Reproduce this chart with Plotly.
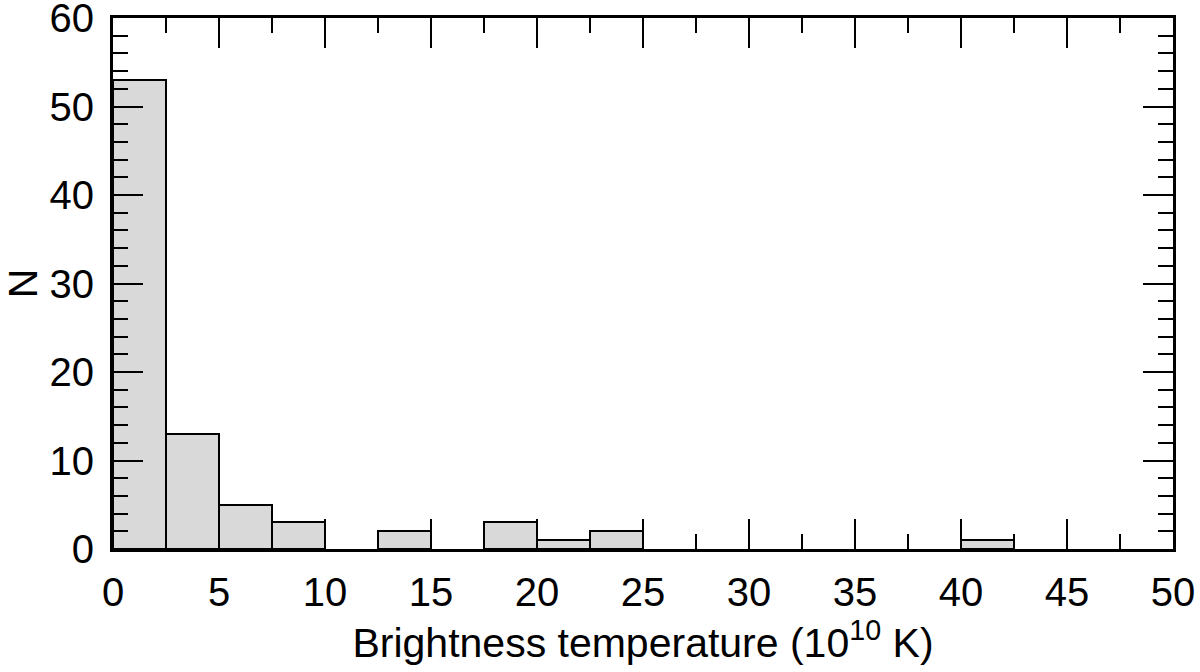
import plotly.graph_objects as go

bin_left = [0, 2.5, 5, 7.5, 10, 12.5, 15, 17.5, 20, 22.5, 25, 27.5, 30, 32.5, 35, 37.5, 40, 42.5, 45, 47.5]
counts = [53, 13, 5, 3, 0, 2, 0, 3, 1, 2, 0, 0, 0, 0, 0, 0, 1, 0, 0, 0]
bin_width = 2.5

xs = [b + bin_width / 2 for b in bin_left]
xv = [x for x, c in zip(xs, counts) if c > 0]
yv = [c for c in counts if c > 0]

fig = go.Figure(go.Bar(
    x=xv, y=yv, width=bin_width,
    marker=dict(color="#d9d9d9", line=dict(color="black", width=2)),
))

font = dict(family="Liberation Sans, Arial, sans-serif", size=40, color="black")
title_font = dict(family="Liberation Sans, Arial, sans-serif", size=41, color="black")
axis_common = dict(
    showgrid=False, zeroline=False, showline=True, linecolor="black", linewidth=3,
    mirror="allticks", ticks="inside", ticklen=30, tickwidth=2, tickcolor="black",
    tickfont=font, automargin=False, ticklabeloverflow="allow",
)
fig.update_layout(
    width=1200, height=672,
    margin=dict(l=113, r=27, t=18, b=123),
    paper_bgcolor="white", plot_bgcolor="white",
    showlegend=False, bargap=0,
    font=font,
    xaxis=dict(range=[0, 50], dtick=5, tick0=0, ticklabelstandoff=6,
               minor=dict(dtick=2.5, ticks="inside", ticklen=15, tickwidth=2, tickcolor="black"),
               title=dict(text="Brightness temperature (10<sup>10</sup> K)", font=title_font, standoff=14),
               **axis_common),
    yaxis=dict(range=[0, 60], dtick=10, tick0=0, ticklabelstandoff=8,
               minor=dict(dtick=2, ticks="inside", ticklen=15, tickwidth=2, tickcolor="black"),
               title=dict(text="N", font=title_font, standoff=12),
               **axis_common),
)
fig.write_html("out.html", config={"displayModeBar": False},
               post_script="document.body.style.margin='0';document.body.style.padding='0';")
